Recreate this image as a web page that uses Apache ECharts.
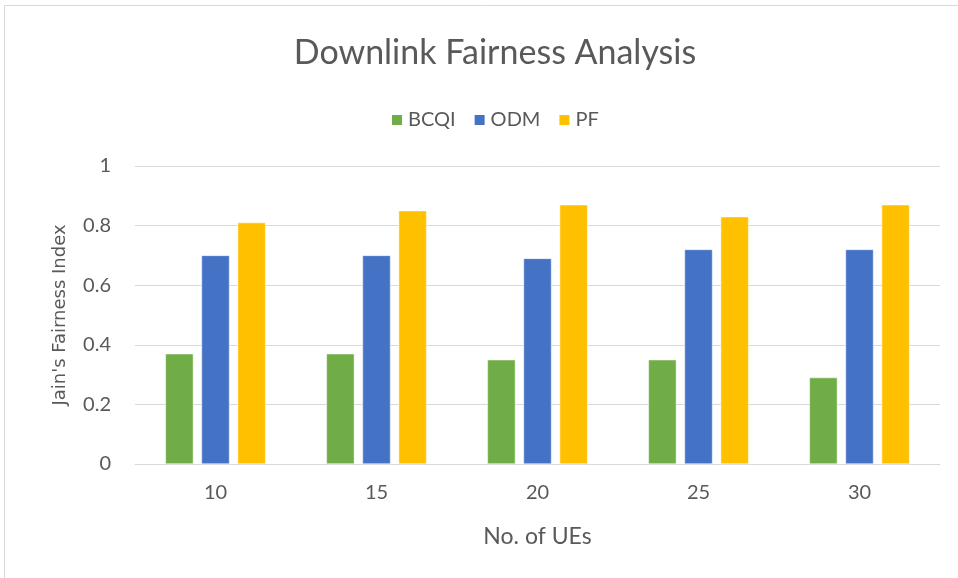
<!DOCTYPE html>
<html>
<head>
<meta charset="utf-8">
<script src="https://cdn.jsdelivr.net/npm/echarts@6/dist/echarts.min.js"></script>
<style>
html,body{margin:0;padding:0;background:#fff;}
#chart{width:958px;height:578px;}
</style>
</head>
<body>
<div id="chart"></div>
<script>
var categories = ['10', '15', '20', '25', '30'];
var seriesNames = ['BCQI', 'ODM', 'PF'];
var bcqi = [0.37, 0.37, 0.35, 0.35, 0.29];
var odm = [0.70, 0.70, 0.69, 0.72, 0.72];
var pf = [0.81, 0.85, 0.87, 0.83, 0.87];
var colors = ['#70AD47', '#4472C4', '#FFC000'];

var FONT = 'Lato';
var chart = echarts.init(document.getElementById('chart'));
var values = [bcqi, odm, pf];
chart.setOption({
  backgroundColor: '#ffffff',
  animation: false,
  graphic: [{
    type: 'rect', shape: {x: 4.5, y: 5.5, width: 1000, height: 1000},
    style: {fill: 'none', stroke: '#d9d9d9', lineWidth: 1}, silent: true, z: -1
  }],
  title: {
    text: 'Downlink Fairness Analysis',
    left: 490, top: 31, textAlign: 'center',
    textStyle: {fontFamily: FONT, fontSize: 34, fontWeight: 'normal', color: '#595959'}
  },
  legend: {
    data: seriesNames,
    left: 385, top: 105,
    itemWidth: 12, itemHeight: 12, itemGap: 17,
    icon: 'rect',
    textStyle: {fontFamily: FONT, fontSize: 20, color: '#595959', padding: [0, 0, 0, 0]}
  },
  grid: {left: 135, right: 18, top: 166, bottom: 114, containLabel: false},
  xAxis: {
    type: 'category', data: categories,
    axisLine: {lineStyle: {color: '#d9d9d9', width: 1}},
    axisTick: {show: false},
    axisLabel: {fontFamily: FONT, fontSize: 20, color: '#595959', margin: 19},
    name: 'No. of UEs', nameLocation: 'middle', nameGap: 61,
    nameTextStyle: {fontFamily: FONT, fontSize: 23, color: '#595959'}
  },
  yAxis: {
    type: 'value', min: 0, max: 1, interval: 0.2,
    axisLine: {show: false}, axisTick: {show: false},
    splitLine: {lineStyle: {color: '#d9d9d9', width: 1}},
    axisLabel: {fontFamily: FONT, fontSize: 20, color: '#595959', margin: 24},
    name: "Jain's Fairness Index", nameLocation: 'middle', nameGap: 66, nameRotate: 90,
    nameTextStyle: {fontFamily: 'DejaVu Sans', fontSize: 18, color: '#595959'}
  },
  series: seriesNames.map(function (n, i) {
    return {
      name: n, type: 'bar', data: values[i],
      barWidth: 28, barGap: '29%',
      itemStyle: {color: colors[i], borderColor: '#ffffff', borderWidth: 0.5}
    };
  })
});
</script>
</body>
</html>
